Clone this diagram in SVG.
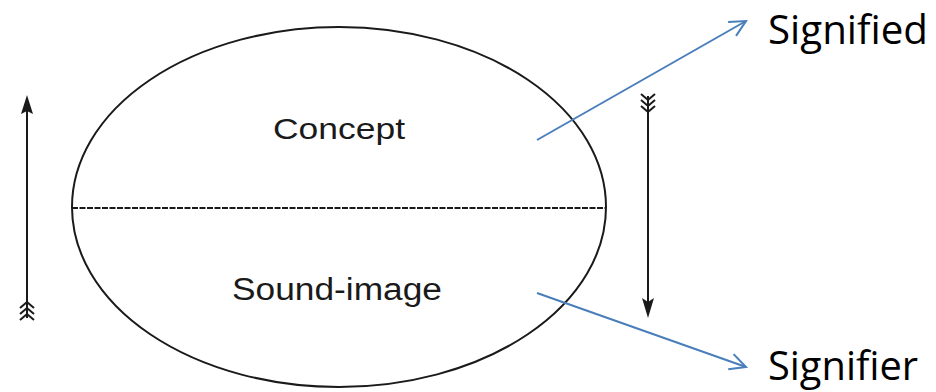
<svg xmlns="http://www.w3.org/2000/svg" width="936" height="392" viewBox="0 0 936 392">
<defs>
<style>
.ink{stroke:#1a1a1a;fill:none;stroke-width:2}
.lbl{font-family:"Liberation Sans",Arial,sans-serif;fill:#1a1a1a}
.term{font-family:"Open Sans","Noto Sans",sans-serif;fill:#000}
.blue{stroke:#4a7ebb;stroke-width:2;fill:none}
</style>
<marker id="open" viewBox="0 0 20 20" refX="18" refY="10" markerWidth="20" markerHeight="20" markerUnits="userSpaceOnUse" orient="auto">
<path d="M2,2 L18,10 L2,18" fill="none" stroke="#4a7ebb" stroke-width="2"/>
</marker>
</defs>
<rect width="936" height="392" fill="#fff"/>
<g id="sign">
<ellipse class="ink" cx="339" cy="207" rx="267" ry="180"/>
<line class="ink" x1="72" y1="208" x2="606" y2="208" stroke-dasharray="6 1.5"/>
</g>
<g id="concept"><text class="lbl" x="273" y="139" font-size="29" textLength="132" lengthAdjust="spacingAndGlyphs">Concept</text></g>
<g id="sound-image"><text class="lbl" x="232" y="300" font-size="31" textLength="210" lengthAdjust="spacingAndGlyphs">Sound-image</text></g>
<g id="left-arrow">
<line class="ink" x1="27" y1="108" x2="27" y2="318"/>
<path d="M27,95 L21,114 L27,111 L33,114 Z" fill="#1a1a1a"/>
<path class="ink" d="M20,308 L27,302 L34,308 M20,314 L27,308 L34,314 M20,320 L27,314 L34,320" stroke-width="1.8"/>
</g>
<g id="right-arrow">
<line class="ink" x1="648" y1="96" x2="648" y2="305"/>
<path d="M648,318 L642,298 L648,302 L654,298 Z" fill="#1a1a1a"/>
<path class="ink" d="M641,94 L648,100 L655,94 M641,100 L648,106 L655,100 M641,106 L648,112 L655,106" stroke-width="1.8"/>
</g>
<g id="connectors">
<line class="blue" x1="537" y1="140" x2="746" y2="21" marker-end="url(#open)"/>
<line class="blue" x1="537" y1="293" x2="746" y2="367" marker-end="url(#open)"/>
</g>
<g id="signified"><text class="term" x="768" y="44" font-size="40" textLength="160" lengthAdjust="spacingAndGlyphs">Signified</text></g>
<g id="signifier"><text class="term" x="768" y="380" font-size="40" textLength="150" lengthAdjust="spacingAndGlyphs">Signifier</text></g>
</svg>
